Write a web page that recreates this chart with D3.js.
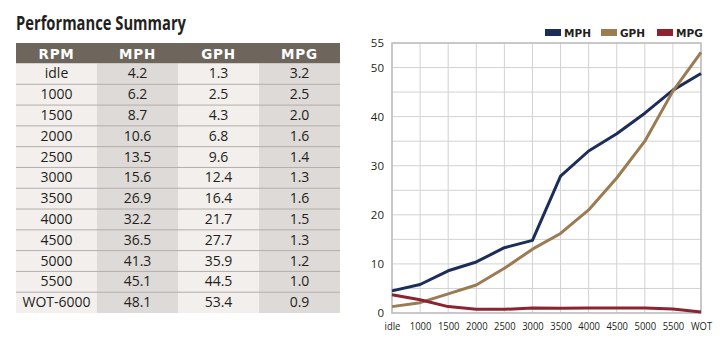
<!DOCTYPE html>
<html>
<head>
<meta charset="utf-8">
<script src="https://cdn.jsdelivr.net/npm/d3@7"></script>
<style>
  body { margin: 0; background: #fff; }
  svg { display: block; }
</style>
</head>
<body>
<div id="chart-container"></div>
<script>
/* DATA */
const headers = ["RPM", "MPH", "GPH", "MPG"];
const rpm = ["idle", "1000", "1500", "2000", "2500", "3000", "3500", "4000", "4500", "5000", "5500", "WOT-6000"];
const mph = [4.2, 6.2, 8.7, 10.6, 13.5, 15.6, 26.9, 32.2, 36.5, 41.3, 45.1, 48.1];
const gph = [1.3, 2.5, 4.3, 6.8, 9.6, 12.4, 16.4, 21.7, 27.7, 35.9, 44.5, 53.4];
const mpg = [3.2, 2.5, 2.0, 1.6, 1.4, 1.3, 1.6, 1.5, 1.3, 1.2, 1.0, 0.9];

// the line chart doesn't plot the table exactly - these are read off the plot itself
const rpmTicks = ["idle", "1000", "1500", "2000", "2500", "3000", "3500", "4000", "4500", "5000", "5500", "WOT"];
const mphLine = [4.5, 5.8, 8.6, 10.4, 13.3, 14.8, 27.9, 33.0, 36.5, 40.7, 45.4, 48.8];
const gphLine = [1.3, 2.1, 3.9, 5.7, 9.1, 13.0, 16.2, 21.0, 27.5, 35.0, 45.2, 53.1];
const mpgLine = [3.7, 2.7, 1.3, 0.75, 0.75, 1.0, 0.95, 1.0, 1.0, 1.0, 0.8, 0.2];
const yLabels = [0, 10, 20, 30, 40, 50, 55];
const yGrid = d3.range(0, 56, 5);

const seriesNames = ["MPH", "GPH", "MPG"];
const colors = { MPH: "#1c2d58", GPH: "#9a7b52", MPG: "#8c2330" };

/* SVG */
const width = 726, height = 343;
const svg = d3.select("#chart-container")
  .append("svg")
  .attr("width", width)
  .attr("height", height);

// title
svg.append("text")
  .attr("x", 16)
  .attr("y", 30)
  .attr("font-family", "'Open Sans', sans-serif")
  .attr("font-weight", "bold")
  .attr("font-size", 19)
  .attr("fill", "#231f20")
  .attr("textLength", 170)
  .attr("lengthAdjust", "spacingAndGlyphs")
  .text("Performance Summary");

/* TABLE */
const colScale = d3.scaleBand().domain(d3.range(4)).range([16, 340]);
const rowScale = d3.scaleBand().domain(d3.range(rpm.length)).range([63.5, 313]);
const fmt = d3.format(".1f");
const rows = rpm.map((r, i) => [r, fmt(mph[i]), fmt(gph[i]), fmt(mpg[i])]);

const table = svg.append("g").attr("class", "table");

// header
table.append("rect")
  .attr("x", 16).attr("y", 43)
  .attr("width", 324).attr("height", 20.5)
  .attr("fill", "#6e665c");

table.selectAll(".head")
  .data(headers)
  .join("text")
  .attr("class", "head")
  .attr("x", (d, i) => colScale(i) + colScale.bandwidth() / 2)
  .attr("y", 58.5)
  .attr("text-anchor", "middle")
  .attr("font-family", "'DejaVu Sans', sans-serif")
  .attr("font-weight", "bold")
  .attr("font-size", 13.5)
  .attr("letter-spacing", 0.8)
  .attr("fill", "#fff")
  .text(d => d);

// column shading
table.selectAll(".col")
  .data(d3.range(4))
  .join("rect")
  .attr("class", "col")
  .attr("x", i => colScale(i))
  .attr("y", rowScale.range()[0])
  .attr("width", colScale.bandwidth())
  .attr("height", rowScale.range()[1] - rowScale.range()[0])
  .attr("fill", i => i % 2 ? "#dedad7" : "#f2efed");

// row separators
table.selectAll(".sep")
  .data(d3.range(1, rpm.length))
  .join("line")
  .attr("class", "sep")
  .attr("x1", 16).attr("x2", 340)
  .attr("y1", i => rowScale(i)).attr("y2", i => rowScale(i))
  .attr("stroke", "#b3aea9")
  .attr("stroke-width", 1);

table.selectAll(".row")
  .data(rows)
  .join("g")
  .attr("class", "row")
  .attr("transform", (d, i) => `translate(0, ${rowScale(i) + rowScale.bandwidth() / 2 + 4.5})`)
  .selectAll("text")
  .data(d => d)
  .join("text")
  .attr("x", (d, i) => colScale(i) + colScale.bandwidth() / 2)
  .attr("text-anchor", "middle")
  .attr("font-family", "'Open Sans', sans-serif")
  .attr("font-size", 14)
  .attr("fill", "#231f20")
  .text(d => d);

/* LINE CHART */
const xScale = d3.scalePoint().domain(rpmTicks).range([392, 701]);
const yScale = d3.scaleLinear().domain([0, 55]).range([313, 43]);

const chart = svg.append("g").attr("class", "chart");

// grid
chart.selectAll(".vgrid")
  .data(rpmTicks)
  .join("line")
  .attr("class", "vgrid")
  .attr("x1", d => xScale(d)).attr("x2", d => xScale(d))
  .attr("y1", yScale(55)).attr("y2", yScale(0))
  .attr("stroke", "#d2d2d2");

chart.selectAll(".hgrid")
  .data(yGrid)
  .join("line")
  .attr("class", "hgrid")
  .attr("x1", 392).attr("x2", 701)
  .attr("y1", d => yScale(d)).attr("y2", d => yScale(d))
  .attr("stroke", "#d2d2d2");

// frame
chart.append("rect")
  .attr("x", 392).attr("y", yScale(55))
  .attr("width", 309).attr("height", yScale(0) - yScale(55))
  .attr("fill", "none")
  .attr("stroke", "#bdbdbd")
  .attr("stroke-width", 1.5);

// axes
const yAxis = d3.axisLeft(yScale).tickValues(yLabels).tickSize(0).tickPadding(8);
chart.append("g")
  .attr("transform", "translate(392,0)")
  .call(yAxis)
  .call(g => g.select(".domain").remove())
  .selectAll("text")
  .attr("font-family", "'Open Sans', sans-serif")
  .attr("font-size", 11.5)
  .attr("fill", "#231f20");

const xAxis = d3.axisBottom(xScale).tickSize(0).tickPadding(9);
chart.append("g")
  .attr("transform", `translate(0,${yScale(0)})`)
  .call(xAxis)
  .call(g => g.select(".domain").remove())
  .selectAll("text")
  .attr("font-family", "'Open Sans', sans-serif")
  .attr("font-size", 11.5)
  .attr("fill", "#231f20")
  // squeeze into a condensed look, labels are tight in the original
  .each(function () {
    const w = this.getComputedTextLength();
    d3.select(this)
      .attr("textLength", w * 0.82)
      .attr("lengthAdjust", "spacingAndGlyphs");
  });

// lines
const lineGen = d3.line()
  .x((d, i) => xScale(rpmTicks[i]))
  .y(d => yScale(d));

const lineData = [["MPH", mphLine], ["GPH", gphLine], ["MPG", mpgLine]];
chart.selectAll(".line")
  .data(lineData)
  .join("path")
  .attr("class", "line")
  .attr("fill", "none")
  .attr("stroke", d => colors[d[0]])
  .attr("stroke-width", 3)
  .attr("stroke-linejoin", "round")
  .attr("d", d => lineGen(d[1]));

// legend
const legendX = d3.scaleOrdinal().domain(seriesNames).range([545, 601, 657]);
const legend = chart.selectAll(".legend")
  .data(seriesNames)
  .join("g")
  .attr("class", "legend")
  .attr("transform", d => `translate(${legendX(d)}, 29)`);

legend.append("rect")
  .attr("width", 16).attr("height", 7)
  .attr("fill", d => colors[d]);

legend.append("text")
  .attr("x", 19).attr("y", 7.8)
  .attr("font-family", "'DejaVu Sans', sans-serif")
  .attr("font-weight", "bold")
  .attr("font-size", 10.5)
  .attr("fill", "#231f20")
  .text(d => d);
</script>
</body>
</html>
